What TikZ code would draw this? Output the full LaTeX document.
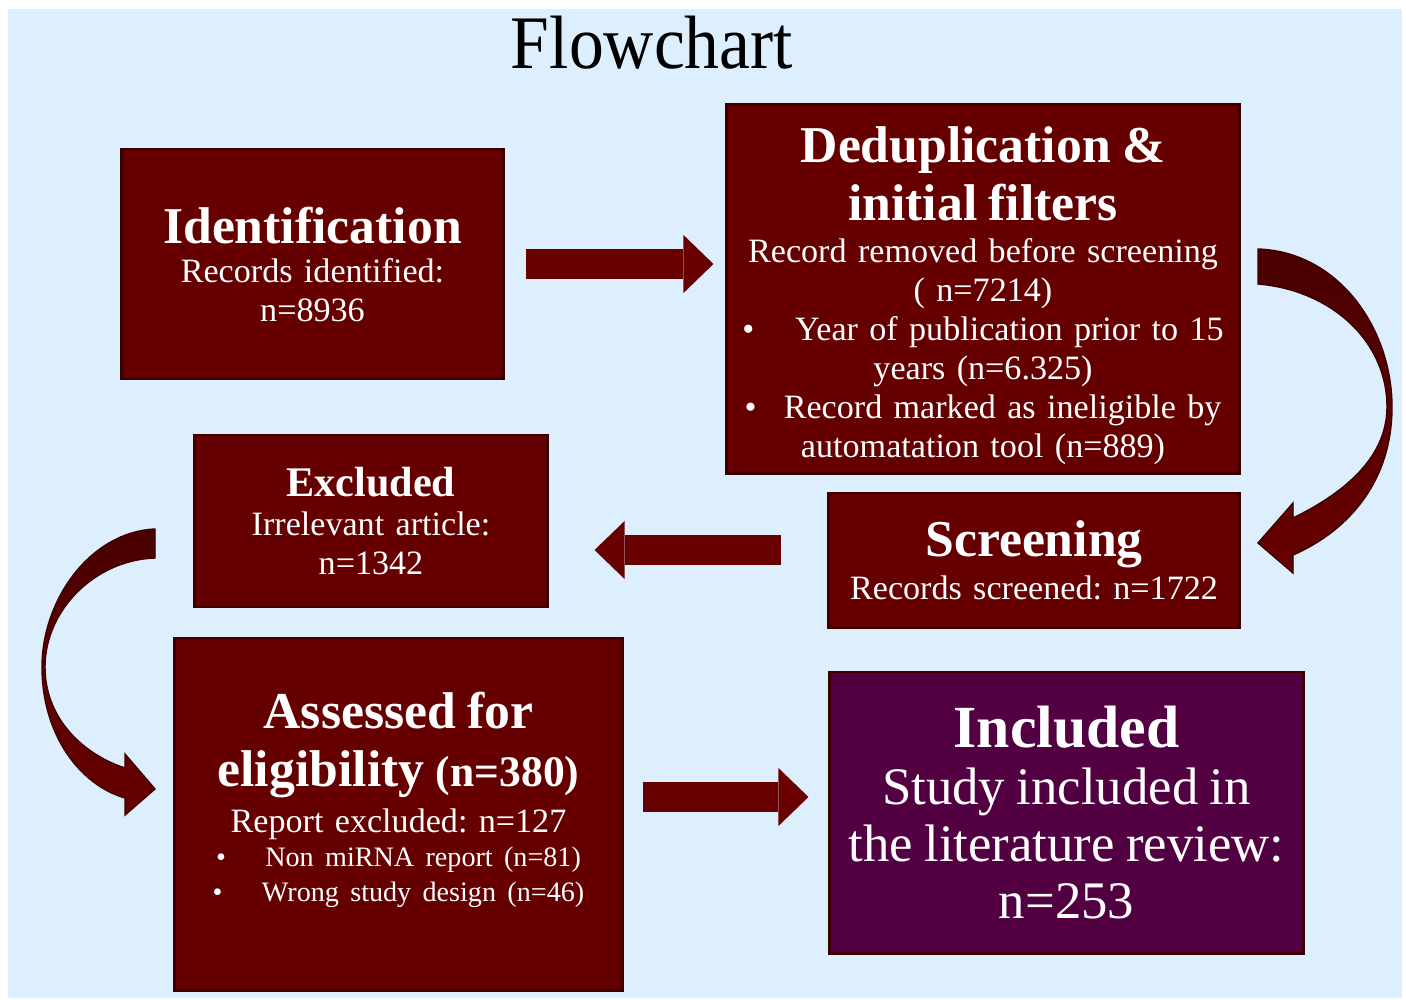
\documentclass[tikz,border=0pt]{standalone}
\usepackage{fontspec}
\setmainfont{Liberation Serif}
\usetikzlibrary{arrows.meta,positioning,calc}
\frenchspacing

\definecolor{bgblue}{RGB}{221,238,253}
\definecolor{boxred}{RGB}{102,0,0}
\definecolor{boxedge}{RGB}{60,0,0}
\definecolor{boxpurple}{RGB}{82,0,66}
\definecolor{arrowdark}{RGB}{74,0,0}
\definecolor{arrowred}{RGB}{104,0,0}

\newcommand{\headfont}{\fontsize{14.7}{16.3}\selectfont\bfseries}
\newcommand{\bodyfont}{\fontsize{9.7}{11.1}\selectfont}
\newcommand{\smallbody}{\fontsize{8}{9.8}\selectfont}

\tikzset{
  stagebox/.style={fill=boxred, draw=boxedge, line width=0.8pt, text=white,
    align=center, inner sep=0pt, font=\bodyfont},
  flowarrow/.style={draw=arrowred, line width=0.3cm,
    -{Triangle[length=0.3cm, width=0.58cm, line width=0pt]}},
  bentarrow/.style={top color=arrowdark, bottom color=arrowred, draw=boxedge, line width=0.4pt}
}

\begin{document}
\begin{tikzpicture}[x=0.01cm,y=-0.01cm]
\useasboundingbox (0,0) rectangle (1406,1000);
\fill[bgblue] (8,9) rectangle (1402,998);

\node[font=\fontsize{21.5}{24}\selectfont] (title) at (652,43) {\scalebox{0.92}[1]{Flowchart}};

% boxes
\node[stagebox, minimum width=3.81cm, minimum height=2.30cm, text width=3.6cm] (ident) at (312.5,264)
  {{\headfont Identification\par}
   Records identified:\\ n=8936};
\node[stagebox, minimum width=5.12cm, minimum height=3.68cm, text width=5cm] (dedup) at (983,289)
  {{\headfont Deduplication \&\\ initial filters\par}\vspace{1pt}
   Record removed before screening\\ ( n=7214)\\
   \textbullet\hspace{1.2em}Year of publication prior to 15\\ years (n=6.325)\\
   \textbullet\hspace{0.8em}Record marked as ineligible by\\ automatation tool (n=889)\par\vspace*{-4pt}};
\node[stagebox, minimum width=3.52cm, minimum height=1.72cm, text width=3.3cm] (excl) at (371,521)
  {{\fontsize{12}{14}\selectfont\bfseries Excluded\par}
   Irrelevant article:\\ n=1342};
\node[stagebox, minimum width=4.10cm, minimum height=1.35cm, text width=4cm] (screen) at (1034,560.5)
  {{\headfont Screening\par}\vspace{1pt}
   Records screened: n=1722};
\node[stagebox, minimum width=4.47cm, minimum height=3.52cm, text width=4.4cm] (assess) at (398.5,814)
  {{\headfont Assessed for\\ eligibility {\fontsize{12.4}{14}\selectfont(n=380)}\par}\vspace{2pt}
   Report excluded: n=127\par
   {\smallbody \textbullet\hspace{1.4em}Non miRNA report (n=81)\\
   \textbullet\hspace{1.4em}Wrong study design (n=46)\par}\vspace*{8pt}};
\node[stagebox, fill=boxpurple, minimum width=4.73cm, minimum height=2.81cm, text width=4.65cm] (incl) at (1066.5,812.5)
  {{\fontsize{17}{19}\selectfont\bfseries Included\par}
   {\fontsize{15}{16.3}\selectfont Study included in\\ the literature review:\\ n=253\par}};

% straight arrows
\draw[flowarrow, shorten <=0.21cm, shorten >=0.12cm] (ident.east) -- (ident.east -| dedup.west);
\coordinate (s1) at ([yshift=0.105cm]screen.west);
\draw[flowarrow, shorten <=0.46cm, shorten >=0.46cm] (s1) -- (s1 -| excl.east);
\coordinate (a1) at ([yshift=0.17cm]assess.east);
\draw[flowarrow, shorten <=0.19cm, shorten >=0.2cm] (a1) -- (a1 -| incl.west);

% bent arrows
\fill[bentarrow] (1258,249) .. controls (1340,252) and (1392,330) .. (1392,407)
  .. controls (1392,480) and (1350,530) .. (1293,555) -- (1293,573) -- (1258,543)
  -- (1293,503) -- (1293,518) .. controls (1340,495) and (1387,460) .. (1387,407)
  .. controls (1387,340) and (1330,290) .. (1258,284) -- cycle;
\fill[bentarrow] (155,529) .. controls (90,532) and (42,600) .. (42,667)
  .. controls (42,735) and (80,785) .. (125,798) -- (125,815) -- (155,789)
  -- (125,754) -- (125,768) .. controls (85,755) and (45,720) .. (45,667)
  .. controls (45,610) and (95,560) .. (155,558) -- cycle;
\end{tikzpicture}
\end{document}
